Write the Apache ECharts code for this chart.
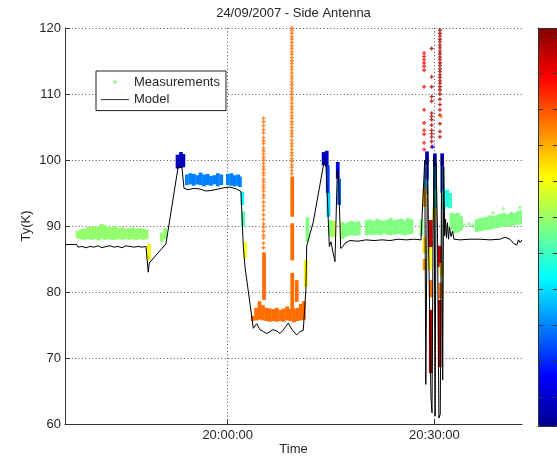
<!DOCTYPE html>
<html><head><meta charset="utf-8">
<script src="https://cdn.jsdelivr.net/npm/echarts@6/dist/echarts.min.js"></script>
<style>html,body{margin:0;padding:0;background:#fff}#c{width:557px;height:457px}</style>
</head><body><div id="c"></div>
<script>
// ---- time axis: minutes relative to 20:00:00 ----
const xMin = -23.61, xMax = 42.71;
const xTickVals = [0, 30];
const xTickLabels = ['20:00:00', '20:30:00'];
const yMin = 60, yMax = 120, yStep = 10;
const titleText = '24/09/2007 - Side Antenna';
// colour scale (0..1, jet) and colour-bar tick positions
const jetColors = ['#00008f','#0000ff','#0080ff','#00ffff','#80ff80','#ffff00','#ff8000','#ff0000','#800000'];
const cbarTicks = [0.071,0.162,0.252,0.343,0.434,0.524,0.615,0.706,0.796,0.887,0.978];

// ---- Model (black line) ----
const modelT = [-23.61,-21.92,-21.73,-21.15,-20.57,-19.99,-19.41,-18.82,-18.24,-17.66,-17.08,-16.50,-15.92,-15.34,-14.76,-14.18,-13.60,-13.02,-12.44,-11.86,
 -11.60,-11.53,-11.38,-8.96,-7.17,-6.63,-6.34,-5.76,-4.89,-4.02,-3.15,-2.28,-1.41,-0.54,0.33,1.31,1.93,2.26,2.51,3.72,
 4.21,4.69,5.17,5.66,6.14,6.57,7.11,7.59,8.03,8.80,9.33,10.01,10.49,10.97,11.22,11.34,11.47,11.65,12.42,13.98,
 14.27,14.75,14.99,15.28,15.57,15.91,16.08,16.40,16.73,17.02,17.75,18.91,20.07,21.23,22.40,23.56,24.72,25.88,27.04,28.05,
 28.6,28.75,29.0,29.15,29.5,29.65,29.8,29.95,30.1,30.25,30.45,30.65,30.85,31.05,31.2,31.35,31.5,
 31.61,31.76,31.90,32.05,32.19,32.41,32.63,32.84,33.13,
 33.72,35.17,36.62,38.07,39.52,40.24,40.97,41.45,41.70,41.94,42.21,42.42,42.71];
const modelV = [87.2,87.2,86.8,86.9,86.7,86.9,86.8,87.0,86.7,86.9,87.0,86.8,86.9,86.7,87.0,86.9,86.8,86.9,86.8,86.9,
 86.9,83.0,84.4,87.3,99.1,98.8,95.7,95.5,95.7,95.6,95.3,95.4,95.6,95.8,95.9,95.6,95.2,86.9,83.8,74.5,
 75.2,74.3,74.0,73.7,74.0,74.3,74.1,73.7,74.2,75.3,74.3,73.5,74.0,74.2,74.5,80.3,87.0,86.7,90.6,99.7,
 99.2,86.9,87.6,86.0,84.6,98.5,97.5,86.6,86.9,87.4,87.8,87.7,87.9,87.8,87.9,87.8,88.0,87.9,88.0,87.9,
 100.0,66.0,100.5,88.0,64.0,61.7,88.0,100.5,61.2,99.5,89.0,60.9,61.5,100.5,66.7,99.0,88.5,
 91.0,88.2,90.5,88.0,89.8,88.4,89.2,88.0,87.9,
 87.9,88.0,88.0,87.9,88.0,88.3,88.0,87.4,87.6,87.1,87.9,87.5,87.9];

// ---- Measurements, dense parts: [time, low, high, colourValue] ----
const bandsFirst = [
 [-21.8,88.1,89.3,0.52],[-21.3,88.0,89.5,0.52],[-20.8,87.9,89.6,0.52],[-20.3,88.0,89.8,0.52],[-19.8,87.9,89.9,0.52],
 [-19.3,88.0,90.0,0.52],[-18.8,87.8,89.9,0.52],[-18.3,88.0,90.3,0.52],[-17.8,87.9,90.1,0.52],[-17.3,88.0,89.9,0.52],
 [-16.8,87.9,89.8,0.52],[-16.3,87.9,90.0,0.52],[-15.8,88.0,89.7,0.52],[-15.3,87.9,89.8,0.52],[-14.8,88.0,89.6,0.52],
 [-14.3,87.9,89.7,0.52],[-13.8,88.0,89.8,0.52],[-13.3,87.9,89.6,0.52],[-12.8,88.0,89.7,0.52],[-12.3,87.9,89.6,0.52],
 [-11.8,88.0,89.5,0.52],[-11.45,84.8,87.3,0.63],[-9.6,87.6,89.0,0.52],[-9.1,88.0,89.7,0.52]
];
const bandsHigh = [
 [-7.3,98.7,100.8,0.05],[-6.8,98.8,101.2,0.05],[-6.45,98.9,100.9,0.05],
 [-5.95,96.2,97.8,0.25],[-5.45,96.3,98.0,0.25],[-4.95,96.1,97.9,0.25],[-4.45,96.3,97.7,0.25],[-3.95,96.2,98.1,0.25],
 [-3.45,96.0,97.8,0.25],[-2.95,96.2,97.9,0.25],[-2.45,96.1,97.6,0.25],[-1.95,96.3,97.7,0.25],[-1.45,96.0,98.0,0.25],
 [-0.95,96.2,97.8,0.25],
 [0.0,96.2,97.9,0.25],[0.5,96.1,98.0,0.25],[1.0,96.0,97.7,0.25],[1.5,96.1,97.8,0.25],[1.75,95.9,97.5,0.25],
 [2.1,93.2,95.2,0.37],[2.2,89.9,92.2,0.45],[2.5,85.1,87.6,0.62]
];
const bandsLow = [
 [3.6,75.6,76.4,0.77],[4.1,75.7,77.6,0.77],[4.6,75.8,78.6,0.77],[5.1,75.7,78.0,0.77],[5.6,75.6,77.6,0.77],
 [6.1,75.5,77.5,0.77],[6.6,75.6,77.4,0.77],[7.1,75.5,77.6,0.77],[7.6,75.6,77.3,0.77],[8.1,75.5,77.5,0.77],
 [8.6,75.7,77.8,0.77],[9.1,75.6,77.4,0.77],[9.6,75.4,77.5,0.77],[10.1,75.6,77.6,0.77],[10.6,75.7,78.2,0.77],
 [11.05,75.8,78.6,0.77],
 [5.25,78.8,86.0,0.77],[9.35,76.8,82.9,0.77],[9.35,84.8,90.4,0.77],[9.35,91.4,97.5,0.77],[10.0,78.5,81.8,0.77],
 [11.3,80.8,84.8,0.63],[11.55,87.6,91.3,0.5]
];
const bandsSecond = [
 [13.9,99.2,101.2,0.05],[14.35,99.0,101.4,0.05],[14.5,95.0,99.2,0.18],[14.6,91.4,95.0,0.33],[14.9,88.4,90.9,0.5],
 [15.35,88.3,90.8,0.55],[15.95,97.2,99.7,0.1],[16.15,93.2,97.2,0.22],[16.6,88.0,90.6,0.52],
 [17.0,88.3,90.4,0.5],[17.5,88.5,90.6,0.5],[18.0,88.6,90.8,0.5],[18.5,88.5,90.6,0.5],[19.0,88.6,90.7,0.5],
 [20.15,88.6,90.9,0.5],[20.65,88.7,91.0,0.5],[21.15,88.6,90.8,0.5],[21.65,88.7,91.1,0.5],[22.15,88.6,90.9,0.5],
 [22.65,88.8,90.8,0.5],[23.15,88.7,91.0,0.5],[23.65,88.6,91.2,0.5],[24.15,88.7,90.9,0.5],[24.65,88.8,91.0,0.5],
 [25.15,88.7,91.1,0.5],[25.65,88.6,90.9,0.5],[26.15,88.7,91.2,0.5],[26.65,88.8,91.0,0.5]
];
const bandsSpikes = [
 [28.1,88.5,91.0,0.5],
 [28.9,99.2,101.3,0.05],[28.9,97.0,99.2,0.18],[28.8,94.8,97.0,0.3],[28.55,92.9,95.8,0.72],[28.55,85.9,88.3,0.66],[28.55,83.3,85.0,0.72],
 [29.45,86.8,90.9,0.93],[29.3,83.3,86.8,0.63],[29.45,79.2,81.8,0.77],[29.45,67.7,77.3,0.95],
 [30.05,99.0,101.0,0.05],[30.05,95.5,99.0,0.27],[30.05,92.7,95.5,0.4],[29.95,90.9,92.7,0.63],
 [30.75,83.8,87.0,0.93],[30.75,68.6,78.8,0.95],[30.85,79.0,81.4,0.77],[31.0,82.4,84.4,0.65],
 [31.1,99.0,101.0,0.05],[31.1,95.0,99.0,0.22],[31.35,92.5,95.5,0.38],[31.85,92.9,95.5,0.4],[32.25,92.7,95.0,0.42],
 [32.45,89.5,92.0,0.5],[32.9,88.9,91.9,0.5],[33.4,89.0,92.0,0.5],[33.85,89.3,91.5,0.5]
];
const bandsLast = [
 [36.1,89.1,91.0,0.5],[36.6,89.2,91.2,0.5],[37.1,89.3,91.3,0.5],[37.6,89.4,91.4,0.5],[38.1,89.4,91.6,0.5],
 [38.6,89.6,91.5,0.5],[39.1,89.7,91.7,0.5],[39.6,89.8,91.9,0.5],[40.1,89.9,92.0,0.5],[40.6,89.9,91.8,0.5],
 [41.1,90.0,92.1,0.5],[41.6,90.1,92.0,0.5],[42.1,90.2,92.3,0.5],[42.6,90.2,92.4,0.5]
];

// ---- Measurements, sparse columns of points ----
const colT = [5.2, 9.3, 28.5, 29.6, 30.8];
const colC = [0.77, 0.77, 0.88, 0.96, 0.96];
const colV = [
 [106.3,105.8,105.2,104.6,104.1,103.4,102.9,102.5,101.8,101.4,100.9,100.4,100.0,99.5,99.0,98.6,98.1,97.7,97.1,96.7,96.2,95.8,95.3,94.7,94.3,93.6,93.0,92.4,91.7,91.0,90.3,89.8,89.2,88.6,88.2,87.4,86.7],
 [97.9,98.4,98.9,99.3,99.8,100.2,100.7,101.1,101.6,102.1,102.5,103.0,103.6,104.0,104.4,104.9,105.4,105.8,106.3,106.7,107.2,107.7,108.1,108.6,109.1,109.5,110.0,110.4,110.9,111.4,111.8,112.3,112.7,113.2,113.7,114.1,114.6,115.0,115.5,116.0,116.4,116.9,117.3,117.8,118.3,118.7,119.2,119.6,120.0],
 [116.2,115.7,115.2,114.7,114.2,113.6,111.1,107.6,105.6,104.5,103.9,102.6,101.6],
 [116.9,112.6,111.1,109.6,108.9,107.1,106.6,106.1,105.3,104.5,104.0,103.5,102.8,102.0],
 [119.7,119.2,118.8,118.3,117.9,117.4,117.0,116.5,116.1,115.6,115.2,114.7,114.3,113.8,113.4,112.9,112.5,112.0,111.6,111.1,110.6,
  110.0,109.2,108.4,107.6,106.8,105.5,104.3,103.5]
];
const dotT = [29.75, 30.95, 34.3, 35.0, 35.5, 38.5, 40.0, 42.4];
const dotV = [102.0, 106.6, 90.2, 90.3, 90.1, 92.0, 92.6, 92.8];
const dotC = [0.12, 0.77, 0.5, 0.5, 0.5, 0.5, 0.5, 0.5];

// ---- build series data ----
const bandData = [].concat(bandsFirst, bandsHigh, bandsLow, bandsSecond, bandsSpikes, bandsLast);
const pointData = [];
colT.forEach((t, i) => colV[i].forEach(v => pointData.push([t, v, v, colC[i]])));
dotT.forEach((t, i) => pointData.push([t, dotV[i], dotV[i], dotC[i]]));
const modelData = modelT.map((t, i) => [t, modelV[i]]);

const FONT = "'Liberation Sans', Arial, Helvetica, sans-serif";
const TXT = '#262626';
const BAND_W = 0.5; // minutes per sample
const plusSym = 'path://M1,0H2V1H3V2H2V3H1V2H0V1H1Z';
const plusIcon = 'path://M0,0M28,14M13.5,4.5H14.5V6.5H16.5V7.5H14.5V9.5H13.5V7.5H11.5V6.5H13.5Z';
const lineIcon = 'path://M0,0M28,14M0,6.5H28V7.5H0Z';
const gridDot = {color: '#555', width: 1, type: [1, 2.4]};

const chart = echarts.init(document.getElementById('c'), null, {renderer: 'canvas'});
chart.setOption({
  animation: false,
  backgroundColor: '#fff',
  textStyle: {fontFamily: FONT},
  title: {
    text: titleText, left: 293.5, top: 7, padding: 0, textAlign: 'center',
    textStyle: {fontSize: 13, fontWeight: 'normal', color: TXT, fontFamily: FONT}
  },
  legend: {
    orient: 'vertical', left: 96, top: 71, padding: [4, 6, 4, 5], itemGap: 3.6,
    itemWidth: 28, itemHeight: 14, backgroundColor: '#fff', borderColor: '#222', borderWidth: 1,
    textStyle: {fontSize: 13, color: TXT, fontFamily: FONT},
    data: [
      {name: 'Measurements', icon: plusIcon, itemStyle: {color: '#86ee80'}},
      {name: 'Model', icon: lineIcon, itemStyle: {color: '#333'}}
    ],
    z: 20
  },
  grid: [
    {left: 65, right: 35, top: 28, bottom: 33, outerBoundsMode: 'none', containLabel: false},
    {left: 538, top: 28, width: 20, height: 398, outerBoundsMode: 'none', containLabel: false}
  ],
  xAxis: [
    {
      gridIndex: 0, type: 'value', min: xMin, max: xMax,
      name: 'Time', nameLocation: 'middle', nameGap: 19, nameMoveOverlap: false,
      nameTextStyle: {fontSize: 13, color: TXT, fontFamily: FONT},
      axisLine: {show: true, onZero: false, lineStyle: {color: '#333', width: 1}},
      axisTick: {show: true, inside: true, length: 5, customValues: xTickVals, lineStyle: {color: '#333'}},
      axisLabel: {customValues: xTickVals, fontSize: 13, color: TXT, margin: 5, fontFamily: FONT,
        formatter: v => { const i = xTickVals.indexOf(v); return i >= 0 ? xTickLabels[i] : ''; }},
      splitLine: {show: true, lineStyle: gridDot}
    },
    {gridIndex: 1, type: 'value', min: 0, max: 1, position: 'bottom', z: 10,
      axisLine: {show: true, onZero: false, lineStyle: {color: '#333'}}, axisTick: {show: false},
      axisLabel: {show: false}, splitLine: {show: false}},
    {gridIndex: 1, type: 'value', min: 0, max: 1, position: 'top', z: 10,
      axisLine: {show: true, onZero: false, lineStyle: {color: '#333'}}, axisTick: {show: false},
      axisLabel: {show: false}, splitLine: {show: false}}
  ],
  yAxis: [
    {
      gridIndex: 0, type: 'value', min: yMin, max: yMax, interval: yStep,
      name: 'Ty(K)', nameLocation: 'middle', nameGap: 32, nameRotate: 90, nameMoveOverlap: false,
      nameTextStyle: {fontSize: 13, color: TXT, fontFamily: FONT},
      axisLine: {show: true, onZero: false, lineStyle: {color: '#333', width: 1}},
      axisTick: {show: true, inside: true, length: 5, lineStyle: {color: '#333'}},
      axisLabel: {fontSize: 13, color: TXT, margin: 4, fontFamily: FONT},
      splitLine: {show: true, lineStyle: gridDot}
    },
    {gridIndex: 1, type: 'value', min: 0, max: 1, position: 'left', z: 10,
      axisLine: {show: true, onZero: false, lineStyle: {color: '#333'}},
      axisTick: {show: true, inside: true, length: 5, customValues: cbarTicks, lineStyle: {color: '#333'}},
      axisLabel: {show: false}, splitLine: {show: false}},
    {gridIndex: 1, type: 'value', min: 0, max: 1, position: 'right', z: 10,
      axisLine: {show: true, onZero: false, lineStyle: {color: '#333'}},
      axisTick: {show: true, inside: true, length: 5, customValues: cbarTicks, lineStyle: {color: '#333'}},
      axisLabel: {show: false}, splitLine: {show: false}}
  ],
  visualMap: {
    type: 'continuous', min: 0, max: 1, dimension: 3, seriesIndex: [0, 1],
    inRange: {color: jetColors},
    show: true, calculable: false, hoverLink: false, orient: 'vertical',
    left: 538, top: 28, itemWidth: 20, itemHeight: 398, padding: 0, z: 5
  },
  series: [
    {
      type: 'custom', name: 'Measurements', xAxisIndex: 0, yAxisIndex: 0, clip: true,
      encode: {x: 0, y: [1, 2]}, data: bandData, z: 2,
      renderItem: (params, api) => {
        const t = api.value(0), lo = api.value(1), hi = api.value(2);
        const p1 = api.coord([t - BAND_W / 2, hi]);
        const p2 = api.coord([t + BAND_W / 2, lo]);
        return {type: 'rect', shape: {x: p1[0], y: p1[1], width: p2[0] - p1[0] + 0.3, height: p2[1] - p1[1]},
          style: {fill: api.visual('color')}};
      }
    },
    {
      type: 'scatter', name: 'Measurements', xAxisIndex: 0, yAxisIndex: 0, clip: true,
      encode: {x: 0, y: 1}, data: pointData, symbol: plusSym, symbolSize: 4, z: 3
    },
    {
      type: 'line', name: 'Model', xAxisIndex: 0, yAxisIndex: 0, clip: true,
      data: modelData, symbol: 'none', showSymbol: false,
      lineStyle: {color: '#000', width: 1}, itemStyle: {color: '#000'}, z: 4
    }
  ]
});
</script>
</body></html>
